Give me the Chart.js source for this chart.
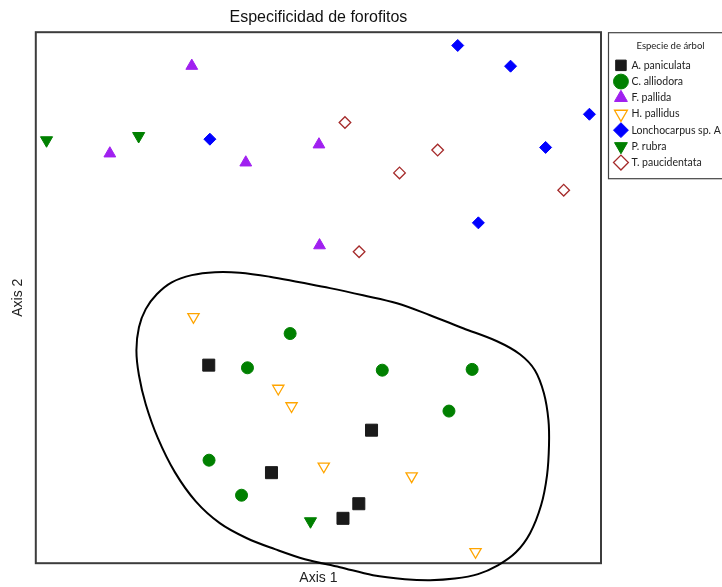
<!DOCTYPE html>
<html>
<head>
<meta charset="utf-8">
<script src="https://cdn.jsdelivr.net/npm/chart.js@4.4.1/dist/chart.umd.min.js"></script>
<style>
    html, body { margin: 0; padding: 0; background: #fff; }
    #wrap { width: 722px; height: 587px; }
</style>
</head>
<body>
<div id="wrap"><canvas id="forofitos-chart"></canvas></div>
<script>
// ordination scores: [axis 1, axis 2]
var speciesNames = ["A. paniculata", "C. alliodora", "F. pallida", "H. pallidus",
    "Lonchocarpus sp. A", "P. rubra", "T. paucidentata"];

var aPaniculata = [[-0.388, -0.254], [0.188, -0.499], [-0.166, -0.659], [0.143, -0.776], [0.087, -0.831]];
var cAlliodora = [[-0.100, -0.135], [-0.251, -0.264], [-0.387, -0.612], [-0.272, -0.744],
    [0.226, -0.273], [0.544, -0.270], [0.462, -0.427]];
var fPallida = [[-0.448, 0.873], [-0.738, 0.543], [-0.257, 0.509], [0.002, 0.577], [0.004, 0.197]];
var hPallidus = [[-0.442, -0.072], [-0.142, -0.342], [-0.095, -0.408], [0.019, -0.635],
    [0.330, -0.672], [0.556, -0.957]];
var lonchocarpus = [[0.493, 0.950], [0.680, 0.872], [0.959, 0.691], [0.804, 0.566],
    [0.566, 0.282], [-0.384, 0.597]];
var pRubra = [[-0.962, 0.593], [-0.636, 0.609], [-0.028, -0.842]];
var tPaucidentata = [[0.094, 0.660], [0.422, 0.556], [0.287, 0.470], [0.868, 0.405], [0.144, 0.173]];

// outline drawn around the lower group (closed by repeating the first point)
var groupOutline = [
    [-0.066, 0.058], [0.041, 0.036], [0.158, 0.009], [0.278, -0.021], [0.395, -0.066],
    [0.512, -0.115], [0.632, -0.164], [0.713, -0.213], [0.766, -0.273], [0.798, -0.360],
    [0.814, -0.461], [0.816, -0.556], [0.809, -0.669], [0.788, -0.782], [0.749, -0.887],
    [0.699, -0.959], [0.635, -1.008], [0.565, -1.041], [0.483, -1.058], [0.395, -1.064],
    [0.306, -1.060], [0.193, -1.045], [0.076, -1.015], [-0.048, -0.985], [-0.154, -0.947],
    [-0.253, -0.906], [-0.349, -0.849], [-0.434, -0.767], [-0.508, -0.657], [-0.568, -0.529],
    [-0.611, -0.401], [-0.635, -0.292], [-0.644, -0.198], [-0.635, -0.111], [-0.611, -0.043],
    [-0.572, 0.013], [-0.519, 0.058], [-0.448, 0.085], [-0.366, 0.096], [-0.278, 0.094],
    [-0.172, 0.079], [-0.066, 0.058]];

var seriesValues = [aPaniculata, cAlliodora, fPallida, hPallidus, lonchocarpus, pRubra, tPaucidentata];

var markers = [
    { style: "rect", radius: 8.5, rotation: 0, fill: "#1a1a1a", line: "#1a1a1a", width: 1 },
    { style: "circle", radius: 6, rotation: 0, fill: "#008000", line: "#008000", width: 1 },
    { style: "triangle", radius: 6.8, rotation: 0, fill: "#a020f0", line: "#a020f0", width: 1 },
    { style: "triangle", radius: 6.5, rotation: 180, fill: "#ffffff", line: "#ffa500", width: 1.3 },
    { style: "rectRot", radius: 6, rotation: 0, fill: "#0000ff", line: "#0000ff", width: 1 },
    { style: "triangle", radius: 7, rotation: 180, fill: "#008000", line: "#008000", width: 1 },
    { style: "rectRot", radius: 5.8, rotation: 0, fill: "#ffffff", line: "#a52a2a", width: 1.3 }
];

function toPoints(pairs) {
    return pairs.map(function (p) { return { x: p[0], y: p[1] }; });
}

var datasets = speciesNames.map(function (name, i) {
    var m = markers[i];
    return {
        label: name,
        data: toPoints(seriesValues[i]),
        pointStyle: m.style,
        pointRadius: m.radius,
        pointHoverRadius: m.radius,
        rotation: m.rotation,
        backgroundColor: m.fill,
        borderColor: m.line,
        borderWidth: m.width,
        clip: false
    };
});

datasets.push({
    label: "outline",
    data: toPoints(groupOutline),
    showLine: true,
    tension: 0.35,
    capBezierPoints: false,
    borderColor: "#000000",
    borderWidth: 2,
    pointRadius: 0,
    clip: false
});

// plot frame + legend box, and legend pushed a little right of the plot
var framePlugin = {
    id: "frame",
    beforeInit: function (chart) {
        var fit = chart.legend.fit;
        chart.legend.fit = function () {
            fit.call(this);
            this.width = 121;
        };
    },
    afterLayout: function (chart) {
        chart.legend.left += 9;
        chart.legend.right += 9;
    },
    beforeDatasetsDraw: function (chart) {
        var a = chart.chartArea, ctx = chart.ctx;
        ctx.save();
        ctx.strokeStyle = "#3c3c3c";
        ctx.lineWidth = 2;
        ctx.strokeRect(a.left, a.top, a.right - a.left, a.bottom - a.top);
        ctx.restore();
    },
    afterDraw: function (chart) {
        var a = chart.chartArea, ctx = chart.ctx;
        ctx.save();
        ctx.strokeStyle = "#444444";
        ctx.lineWidth = 1.2;
        ctx.strokeRect(a.right + 7.5, a.top + 0.5, 140, 146);
        ctx.restore();
    }
};

document.addEventListener("DOMContentLoaded", function () {
    var ctx = document.getElementById("forofitos-chart").getContext("2d");
    new Chart(ctx, {
        type: "scatter",
        data: { datasets: datasets },
        options: {
            responsive: true,
            maintainAspectRatio: false,
            animation: false,
            layout: { padding: { left: 5, top: 0, right: 0, bottom: 0 }, autoPadding: false },
            scales: {
                x: {
                    min: -1, max: 1,
                    ticks: { display: false },
                    grid: { display: false, drawTicks: false },
                    border: { display: false },
                    title: {
                        display: true, text: "Axis 1", color: "#222",
                        font: { family: "Liberation Sans", size: 14 },
                        padding: { top: 7, bottom: 0 }
                    }
                },
                y: {
                    min: -1, max: 1,
                    ticks: { display: false },
                    grid: { display: false, drawTicks: false },
                    border: { display: false },
                    title: {
                        display: true, text: "Axis 2", color: "#222",
                        font: { family: "Liberation Sans", size: 14 },
                        padding: { top: 5, bottom: 9 }
                    }
                }
            },
            plugins: {
                title: {
                    display: true,
                    text: "Especificidad de forofitos",
                    fullSize: false,
                    color: "#111",
                    font: { family: "Liberation Sans", size: 16, weight: "normal" },
                    padding: { top: 8, bottom: 5 }
                },
                legend: {
                    position: "right",
                    align: "start",
                    title: {
                        display: true,
                        text: "Especie de árbol",
                        color: "#222",
                        font: { family: "Lato", size: 9.5 },
                        padding: { top: 41, bottom: 2 }
                    },
                    labels: {
                        usePointStyle: true,
                        color: "#222",
                        font: { family: "Lato", size: 10.5 },
                        padding: 5.7,
                        filter: function (item) { return item.datasetIndex < speciesNames.length; }
                    }
                },
                tooltip: { enabled: false }
            }
        },
        plugins: [framePlugin]
    });
});
</script>
</body>
</html>
